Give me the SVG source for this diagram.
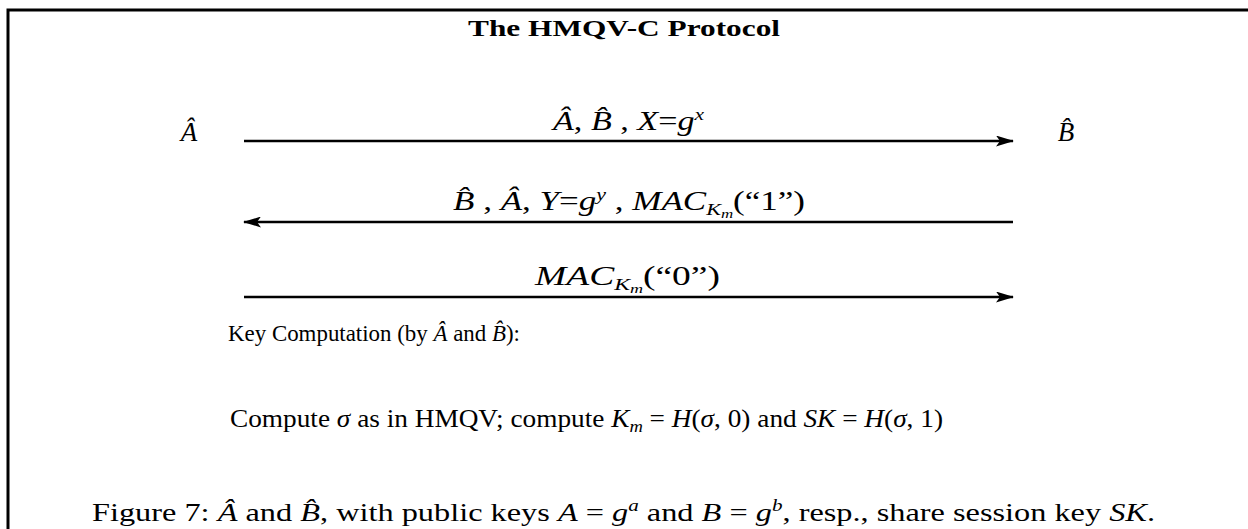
<svg xmlns="http://www.w3.org/2000/svg" width="1248" height="529" viewBox="0 0 1248 529">
<style>
.t{font-family:"Liberation Serif","Times New Roman",serif;fill:#000;font-size:25px}
.c{font-size:26px}
.p{font-size:27px}
.l{font-size:27px}
.k{font-size:24px}
.i{font-style:italic}
.b{font-weight:bold;font-size:23px}
.s{font-size:17px}
.ss{font-size:13px}
.ln{stroke:#000;stroke-width:2.6;fill:none}
.frame{stroke:#000;stroke-width:3;fill:none}
</style>
<defs>
<marker id="ah" markerUnits="userSpaceOnUse" markerWidth="18" markerHeight="11" viewBox="0 0 18 11" refX="17" refY="5.5" orient="auto-start-reverse">
<path d="M0,0 L18,5.5 L0,11 L4,5.5 Z" fill="#000"/>
</marker>
</defs>
<rect width="1248" height="529" fill="#fff"/>
<path class="frame" d="M8,529 V10 H1248"/>
<g id="title"><text class="t b" x="624" y="36" text-anchor="middle" textLength="312" lengthAdjust="spacingAndGlyphs">The HMQV-C Protocol</text></g>
<g id="partyA"><text class="t i p" x="189" y="141" text-anchor="middle">Â</text></g>
<g id="partyB"><text class="t i p" x="1066" y="141" text-anchor="middle">B̂</text></g>
<g id="connectors">
<line class="ln" x1="244" y1="141" x2="1013" y2="141" marker-end="url(#ah)"/>
<line class="ln" x1="1013" y1="222" x2="244" y2="222" marker-end="url(#ah)"/>
<line class="ln" x1="244" y1="297" x2="1013" y2="297" marker-end="url(#ah)"/>
</g>
<g id="label1"><text class="t l" x="553" y="130" textLength="151" lengthAdjust="spacingAndGlyphs"><tspan class="i">Â</tspan>, <tspan class="i">B̂</tspan> , <tspan class="i">X</tspan>=<tspan class="i">g</tspan><tspan class="i s" dy="-10">x</tspan></text></g>
<g id="label2"><text class="t l" x="453" y="210" textLength="352" lengthAdjust="spacingAndGlyphs"><tspan class="i">B̂</tspan> , <tspan class="i">Â</tspan>, <tspan class="i">Y</tspan>=<tspan class="i">g</tspan><tspan class="i s" dy="-10">y</tspan><tspan dy="10"> , </tspan><tspan class="i">MAC</tspan><tspan class="i s" dy="5">K</tspan><tspan class="i ss" dy="3">m</tspan><tspan dy="-8">(“1”)</tspan></text></g>
<g id="label3"><text class="t l" x="535" y="285" textLength="185" lengthAdjust="spacingAndGlyphs"><tspan class="i">MAC</tspan><tspan class="i s" dy="5">K</tspan><tspan class="i ss" dy="3">m</tspan><tspan dy="-8">(“0”)</tspan></text></g>
<g id="keycomp"><text class="t k" x="228" y="341" textLength="292" lengthAdjust="spacingAndGlyphs">Key Computation (by <tspan class="i">Â</tspan> and <tspan class="i">B̂</tspan>):</text></g>
<g id="compute"><text class="t" x="230" y="427" textLength="713" lengthAdjust="spacingAndGlyphs">Compute <tspan class="i">σ</tspan> as in HMQV; compute <tspan class="i">K</tspan><tspan class="i s" dy="5">m</tspan><tspan dy="-5"> = </tspan><tspan class="i">H</tspan>(<tspan class="i">σ</tspan>, 0) and <tspan class="i">SK</tspan> = <tspan class="i">H</tspan>(<tspan class="i">σ</tspan>, 1)</text></g>
<g id="caption"><text class="t c" x="92" y="521" textLength="1063" lengthAdjust="spacingAndGlyphs">Figure 7:  <tspan class="i">Â</tspan> and <tspan class="i">B̂</tspan>, with public keys <tspan class="i">A</tspan> = <tspan class="i">g</tspan><tspan class="i s" dy="-10">a</tspan><tspan dy="10"> and </tspan><tspan class="i">B</tspan> = <tspan class="i">g</tspan><tspan class="i s" dy="-10">b</tspan><tspan dy="10">, resp., share session key </tspan><tspan class="i">SK</tspan>.</text></g>
</svg>
